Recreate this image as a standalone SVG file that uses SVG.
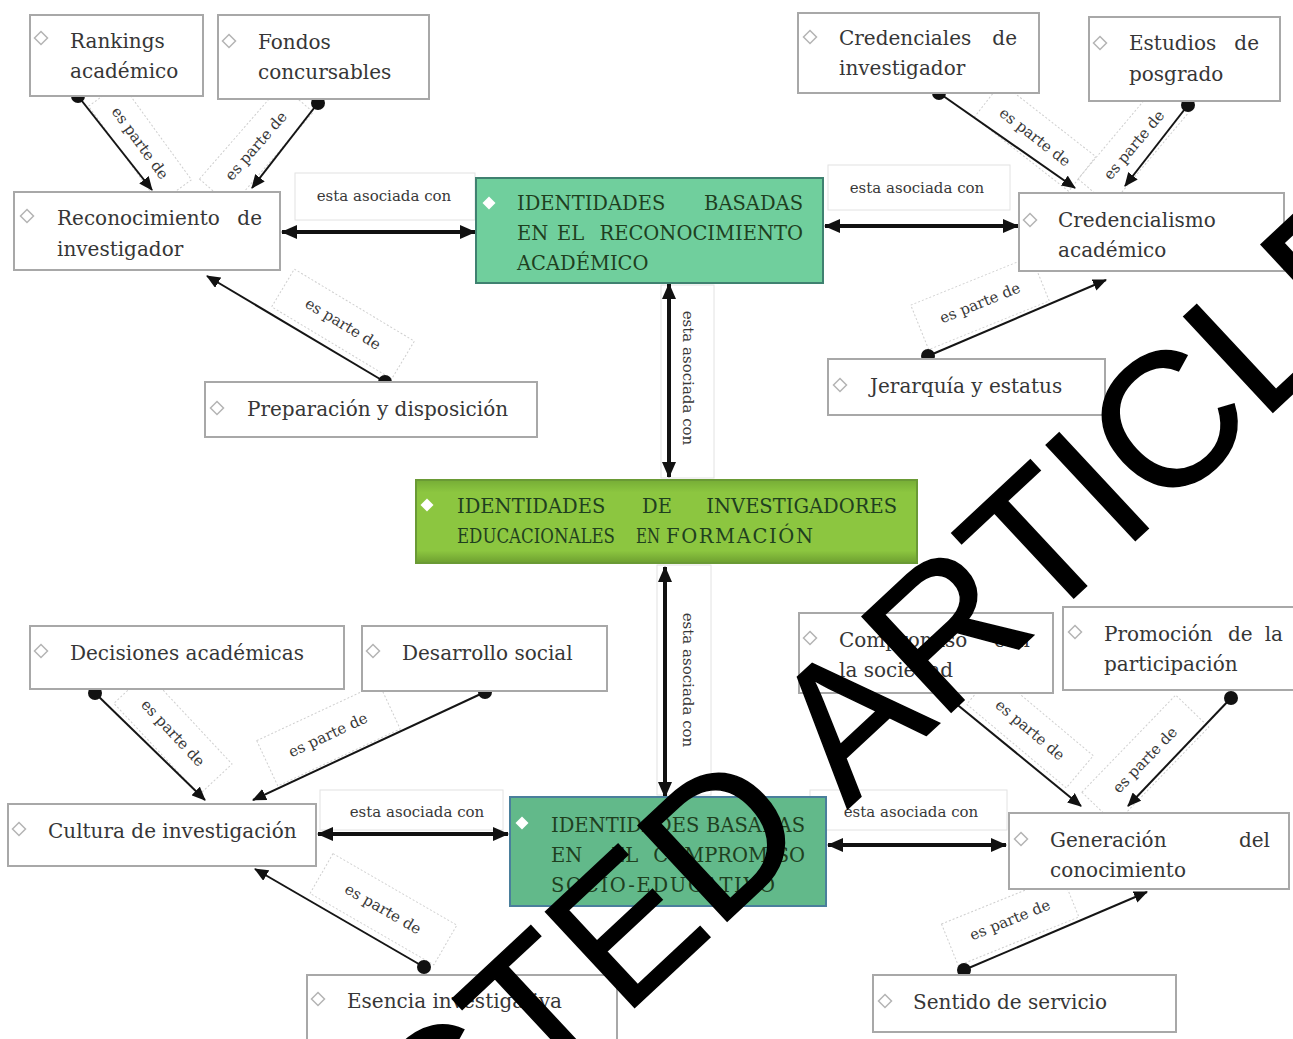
<svg xmlns="http://www.w3.org/2000/svg" width="1293" height="1039" viewBox="0 0 1293 1039">
<style>
.box{fill:#fff;stroke:#a8a8a8;stroke-width:2}
.t{font-family:"DejaVu Serif",serif;font-size:20px;fill:#363636}
.ct{font-family:"DejaVu Serif",serif;font-size:19.5px;fill:#1f3f1f}
.lab{font-family:"DejaVu Serif",serif;font-size:15px;fill:#383838;text-anchor:middle}
.lbox{fill:none;stroke:#cfcfcf;stroke-width:1;stroke-dasharray:2 2}
.abox{fill:#fff;stroke:#e2e2e2;stroke-width:1}
.ln{stroke:#151515;stroke-width:2;fill:none}
.thk{stroke:#111;stroke-width:4;fill:none}
.dot{fill:#111}
.dia{fill:#fff;stroke:#b4b4b4;stroke-width:1.5}
.wdia{fill:#fff;stroke:none}
.wm{font-family:"Liberation Sans",Arial,sans-serif;font-size:190px;fill:#000;stroke:#000;stroke-width:1.5}
</style>
<defs>
<path id="dm" d="M0,-6.5L6.5,0L0,6.5L-6.5,0Z"/>
<marker id="ah" markerUnits="userSpaceOnUse" markerWidth="14" markerHeight="12" viewBox="0 0 14 12" refX="13" refY="6" orient="auto-start-reverse"><path d="M0,0L14,6L0,12z" fill="#111"/></marker>
<marker id="ahb" markerUnits="userSpaceOnUse" markerWidth="16" markerHeight="14" viewBox="0 0 16 14" refX="15" refY="7" orient="auto-start-reverse"><path d="M0,0L16,7L0,14z" fill="#111"/></marker>
<linearGradient id="lime" x1="0" y1="0" x2="0" y2="1">
<stop offset="0" stop-color="#76ad36"/><stop offset="0.15" stop-color="#8cc640"/><stop offset="0.85" stop-color="#8cc640"/><stop offset="1" stop-color="#6d9f30"/>
</linearGradient>
</defs>

<g id="connectors">
<rect class="abox" x="295" y="173" width="180" height="47"/>
<rect class="abox" x="828" y="165" width="182" height="45"/>
<rect class="abox" x="661" y="285" width="53" height="193"/>
<rect class="abox" x="657" y="565" width="54" height="230"/>
<rect class="abox" x="320" y="790" width="183" height="40"/>
<rect class="abox" x="810" y="790" width="197" height="40"/>
<g class="lbox">
<rect x="-60" y="-20" width="120" height="40" transform="translate(140,143) rotate(54)"/>
<rect x="-62" y="-21" width="125" height="42" transform="translate(256,146) rotate(-49)"/>
<rect x="-70" y="-22" width="140" height="44" transform="translate(343,324) rotate(31)"/>
<rect x="-60" y="-22" width="120" height="44" transform="translate(1035,137) rotate(38)"/>
<rect x="-62" y="-21" width="125" height="42" transform="translate(1134,145) rotate(-50)"/>
<rect x="-65" y="-24" width="130" height="48" transform="translate(980,303) rotate(-22)"/>
<rect x="-62" y="-22" width="125" height="45" transform="translate(173,733) rotate(47)"/>
<rect x="-67" y="-25" width="135" height="50" transform="translate(328,735) rotate(-25)"/>
<rect x="-71" y="-23" width="143" height="46" transform="translate(383,909) rotate(30)"/>
<rect x="-65" y="-21" width="130" height="42" transform="translate(1030,730) rotate(40)"/>
<rect x="-67" y="-23" width="135" height="46" transform="translate(1145,760) rotate(-46)"/>
<rect x="-65" y="-22" width="130" height="45" transform="translate(1010,920) rotate(-22)"/>
</g>
<g class="ln" marker-end="url(#ah)">
<line x1="78" y1="96" x2="152" y2="190"/>
<line x1="318" y1="103" x2="252" y2="188"/>
<line x1="385" y1="382" x2="207" y2="276"/>
<line x1="939" y1="93" x2="1075" y2="188"/>
<line x1="1188" y1="105" x2="1125" y2="186"/>
<line x1="928" y1="356" x2="1106" y2="280"/>
<line x1="95" y1="693" x2="205" y2="800"/>
<line x1="485" y1="692" x2="253" y2="800"/>
<line x1="424" y1="967" x2="255" y2="869"/>
<line x1="943" y1="693" x2="1081" y2="806"/>
<line x1="1231" y1="698" x2="1128" y2="806"/>
<line x1="964" y1="970" x2="1147" y2="892"/>
</g>
<g class="dot">
<circle cx="78" cy="96" r="7"/><circle cx="318" cy="103" r="7"/><circle cx="385" cy="382" r="7"/>
<circle cx="939" cy="93" r="7"/><circle cx="1188" cy="105" r="7"/><circle cx="928" cy="356" r="7"/>
<circle cx="95" cy="693" r="7"/><circle cx="485" cy="692" r="7"/><circle cx="424" cy="967" r="7"/>
<circle cx="943" cy="693" r="7"/><circle cx="1231" cy="698" r="7"/><circle cx="964" cy="970" r="7"/>
</g>
<g class="thk" marker-start="url(#ahb)" marker-end="url(#ahb)">
<line x1="282" y1="232" x2="475" y2="232"/>
<line x1="825" y1="226" x2="1018" y2="226"/>
<line x1="669" y1="284" x2="669" y2="477"/>
<line x1="665" y1="567" x2="665" y2="797"/>
<line x1="318" y1="834" x2="508" y2="834"/>
<line x1="828" y1="845" x2="1006" y2="845"/>
</g>
<g class="lab">
<text x="384" y="201">esta asociada con</text>
<text x="917" y="193">esta asociada con</text>
<text transform="translate(688,378) rotate(90)" y="5">esta asociada con</text>
<text transform="translate(688,680) rotate(90)" y="5">esta asociada con</text>
<text x="417" y="817">esta asociada con</text>
<text x="911" y="817">esta asociada con</text>
<text transform="translate(140,143) rotate(54)" y="5">es parte de</text>
<text transform="translate(256,146) rotate(-49)" y="5">es parte de</text>
<text transform="translate(343,324) rotate(31)" y="5">es parte de</text>
<text transform="translate(1035,137) rotate(38)" y="5">es parte de</text>
<text transform="translate(1134,145) rotate(-50)" y="5">es parte de</text>
<text transform="translate(980,303) rotate(-22)" y="5">es parte de</text>
<text transform="translate(173,733) rotate(47)" y="5">es parte de</text>
<text transform="translate(328,735) rotate(-25)" y="5">es parte de</text>
<text transform="translate(383,909) rotate(30)" y="5">es parte de</text>
<text transform="translate(1030,730) rotate(40)" y="5">es parte de</text>
<text transform="translate(1145,760) rotate(-46)" y="5">es parte de</text>
<text transform="translate(1010,920) rotate(-22)" y="5">es parte de</text>
</g>
</g>

<g id="n-rankings">
<rect class="box" x="30" y="15" width="173" height="81"/>
<use href="#dm" class="dia" x="41" y="38"/>
<text class="t" x="70" y="48">Rankings</text>
<text class="t" x="70" y="78">académico</text>
</g>
<g id="n-fondos">
<rect class="box" x="218" y="15" width="211" height="84"/>
<use href="#dm" class="dia" x="229" y="41"/>
<text class="t" x="258" y="49">Fondos</text>
<text class="t" x="258" y="79">concursables</text>
</g>
<g id="n-reconocimiento">
<rect class="box" x="14" y="192" width="266" height="78"/>
<use href="#dm" class="dia" x="27" y="216"/>
<text class="t" x="57" y="225">Reconocimiento</text>
<text class="t" x="262" y="225" text-anchor="end">de</text>
<text class="t" x="57" y="256">investigador</text>
</g>
<g id="n-preparacion">
<rect class="box" x="205" y="382" width="332" height="55"/>
<use href="#dm" class="dia" x="217" y="408"/>
<text class="t" x="247" y="416">Preparación y disposición</text>
</g>
<g id="n-reconocimiento-academico">
<rect x="476" y="178" width="347" height="105" fill="#70cf9d" stroke="#3f8170" stroke-width="2"/>
<use href="#dm" class="wdia" x="489" y="203"/>
<text class="ct" x="517" y="210">IDENTIDADES</text>
<text class="ct" x="803" y="210" text-anchor="end">BASADAS</text>
<text class="ct" x="517" y="240">EN</text>
<text class="ct" x="557" y="240">EL</text>
<text class="ct" x="803" y="240" text-anchor="end">RECONOCIMIENTO</text>
<text class="ct" x="517" y="270">ACADÉMICO</text>
</g>
<g id="n-credenciales">
<rect class="box" x="798" y="13" width="241" height="80"/>
<use href="#dm" class="dia" x="810" y="37"/>
<text class="t" x="839" y="45">Credenciales</text>
<text class="t" x="1017" y="45" text-anchor="end">de</text>
<text class="t" x="839" y="75">investigador</text>
</g>
<g id="n-estudios">
<rect class="box" x="1089" y="17" width="191" height="84"/>
<use href="#dm" class="dia" x="1100" y="43"/>
<text class="t" x="1129" y="50">Estudios</text>
<text class="t" x="1259" y="50" text-anchor="end">de</text>
<text class="t" x="1129" y="81">posgrado</text>
</g>
<g id="n-credencialismo">
<rect class="box" x="1019" y="193" width="265" height="78"/>
<use href="#dm" class="dia" x="1030" y="220"/>
<text class="t" x="1058" y="227">Credencialismo</text>
<text class="t" x="1058" y="257">académico</text>
</g>
<g id="n-jerarquia">
<rect class="box" x="828" y="359" width="277" height="56"/>
<use href="#dm" class="dia" x="840" y="385"/>
<text class="t" x="870" y="393">Jerarquía y estatus</text>
</g>
<g id="n-formacion">
<rect x="416" y="480" width="501" height="83" fill="url(#lime)" stroke="#6a9a35" stroke-width="2"/>
<use href="#dm" class="wdia" x="427" y="505"/>
<text class="ct" x="457" y="513">IDENTIDADES</text>
<text class="ct" x="642" y="513">DE</text>
<text class="ct" x="897" y="513" text-anchor="end">INVESTIGADORES</text>
<text class="ct" x="457" y="543" textLength="158" lengthAdjust="spacingAndGlyphs">EDUCACIONALES</text>
<text class="ct" x="636" y="543" textLength="24" lengthAdjust="spacingAndGlyphs">EN</text>
<text class="ct" x="666" y="543" textLength="147" lengthAdjust="spacing">FORMACIÓN</text>
</g>
<g id="n-decisiones">
<rect class="box" x="30" y="626" width="314" height="63"/>
<use href="#dm" class="dia" x="41" y="651"/>
<text class="t" x="70" y="660">Decisiones académicas</text>
</g>
<g id="n-desarrollo">
<rect class="box" x="362" y="626" width="245" height="65"/>
<use href="#dm" class="dia" x="373" y="651"/>
<text class="t" x="402" y="660">Desarrollo social</text>
</g>
<g id="n-cultura">
<rect class="box" x="8" y="804" width="308" height="62"/>
<use href="#dm" class="dia" x="19" y="829"/>
<text class="t" x="48" y="838">Cultura de investigación</text>
</g>
<g id="n-esencia">
<rect class="box" x="307" y="975" width="310" height="80"/>
<use href="#dm" class="dia" x="318" y="999"/>
<text class="t" x="347" y="1008">Esencia investigativa</text>
</g>
<g id="n-compromiso-socioeducativo">
<rect x="510" y="797" width="316" height="109" fill="#62b98a" stroke="#4a7f9c" stroke-width="2"/>
<use href="#dm" class="wdia" x="522" y="823"/>
<text class="ct" x="551" y="832">IDENTIDADES</text>
<text class="ct" x="805" y="832" text-anchor="end">BASADAS</text>
<text class="ct" x="551" y="862">EN</text>
<text class="ct" x="611" y="862">EL</text>
<text class="ct" x="805" y="862" text-anchor="end">COMPROMISO</text>
<text class="ct" x="551" y="892" textLength="224" lengthAdjust="spacing">SOCIO-EDUCATIVO</text>
</g>
<g id="n-compromiso">
<rect class="box" x="799" y="613" width="254" height="80"/>
<use href="#dm" class="dia" x="810" y="638"/>
<text class="t" x="839" y="647">Compromiso</text>
<text class="t" x="1030" y="647" text-anchor="end">con</text>
<text class="t" x="839" y="677">la sociedad</text>
</g>
<g id="n-promocion">
<rect class="box" x="1063" y="607" width="240" height="83"/>
<use href="#dm" class="dia" x="1075" y="632"/>
<text class="t" x="1104" y="641">Promoción</text>
<text class="t" x="1228" y="641">de</text>
<text class="t" x="1283" y="641" text-anchor="end">la</text>
<text class="t" x="1104" y="671">participación</text>
</g>
<g id="n-generacion">
<rect class="box" x="1009" y="813" width="280" height="76"/>
<use href="#dm" class="dia" x="1021" y="839"/>
<text class="t" x="1050" y="847">Generación</text>
<text class="t" x="1270" y="847" text-anchor="end">del</text>
<text class="t" x="1050" y="877">conocimiento</text>
</g>
<g id="n-sentido">
<rect class="box" x="873" y="975" width="303" height="57"/>
<use href="#dm" class="dia" x="885" y="1001"/>
<text class="t" x="913" y="1009">Sentido de servicio</text>
</g>

<text class="wm" transform="translate(-33,1630) rotate(-43)">RETRACTED ARTICLE</text>
</svg>
